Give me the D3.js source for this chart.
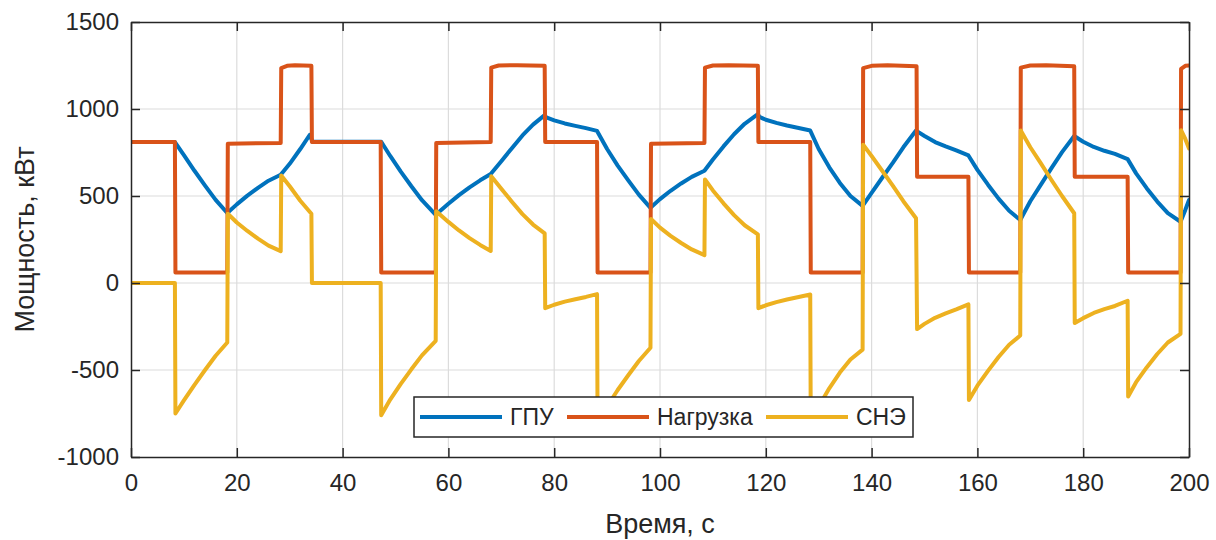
<!DOCTYPE html>
<html>
<head>
<meta charset="utf-8">
<script src="https://cdn.jsdelivr.net/npm/d3@7"></script>
<style>
  html, body { margin: 0; padding: 0; background: #fff; }
  svg { display: block; }
</style>
</head>
<body>
<svg id="chart" width="1216" height="540"></svg>
<script>
// ---------- data (time in s, power in kW) ----------
const xTicks = [0, 20, 40, 60, 80, 100, 120, 140, 160, 180, 200];
const yTicks = [-1000, -500, 0, 500, 1000, 1500];
const seriesNames = ["ГПУ", "Нагрузка", "СНЭ"];
const xLabel = "Время, с";
const yLabel = "Мощность, кВт";

const gpu = [
  [0,810],[8.3,810],
  [10,735],[12,645],[14,560],[16,478],[18.2,402],
  [20,452],[22,502],[24,547],[26,588],[28.3,622],
  [30,685],[32,770],[33.8,852],
  [34.3,812],[47.3,812],
  [49,730],[51,640],[53,556],[55,476],[57.6,392],
  [60,455],[62,505],[64,550],[66,590],[68.0,626],
  [70,700],[72,775],[74,848],[76,910],[78.2,965],
  [78.5,952],[80,935],[82,917],[84,903],[86,890],[88.1,874],
  [90,770],[92,675],[94,590],[96,508],[98.2,432],
  [100,482],[102,530],[104,572],[106,610],[108.4,645],
  [110,710],[112,785],[114,855],[116,915],[118.5,970],
  [118.8,955],[120,938],[122,920],[124,905],[126,892],[128.4,876],
  [130,770],[132,665],[134,575],[136,500],[138.3,443],
  [140,518],[142,605],[144,690],[146,780],[148.4,876],
  [150,845],[152,810],[154,785],[156,762],[158.3,733],
  [160,650],[162,565],[164,485],[166,415],[168.1,362],
  [170,470],[172,565],[174,660],[176,752],[178.3,845],
  [180,812],[182,782],[184,760],[186,742],[188.4,712],
  [190,630],[192,545],[194,468],[196,402],[198.4,352],
  [199.3,420],[200,477]
];

const load = [
  [0,810],[8.3,810],[8.4,60],[18.2,60],[18.3,800],[28.3,805],
  [28.4,1235],[29.5,1248],[31,1252],[34.1,1248],[34.2,810],[47.2,810],
  [47.3,60],[57.6,60],[57.7,805],[68.0,810],
  [68.1,1238],[69.5,1250],[73,1252],[78.2,1248],[78.3,810],[88.1,810],
  [88.2,60],[98.2,60],[98.3,800],[108.4,805],
  [108.5,1238],[110,1250],[113,1252],[118.5,1248],[118.6,810],[128.4,810],
  [128.5,60],[138.3,60],[138.4,1235],[140,1248],[143,1252],[148.5,1246],
  [148.6,610],[158.3,610],[158.4,60],[168.1,60],
  [168.2,1238],[170,1250],[173,1252],[178.3,1246],[178.4,610],[188.4,610],
  [188.5,60],[198.4,60],[198.5,1230],[199.3,1248],[200,1250]
];

const sne = [
  [0,0],[8.3,0],[8.4,-750],
  [10,-675],[12,-585],[14,-500],[16,-418],[18.2,-342],
  [18.3,398],[20,348],[22,299],[24,255],[26,215],[28.3,183],
  [28.4,618],[30,556],[32,473],[34.1,398],
  [34.2,0],[47.2,0],[47.3,-760],
  [49,-670],[51,-580],[53,-496],[55,-416],[57.6,-332],
  [57.7,413],[60,351],[62,302],[64,258],[66,219],[68.0,184],
  [68.1,614],[70,541],[72,467],[74,396],[76,336],[78.2,285],
  [78.3,-145],[80,-125],[82,-107],[84,-93],[86,-80],[88.1,-64],
  [88.2,-814],[90,-710],[92,-615],[94,-530],[96,-448],[98.2,-372],
  [98.3,368],[100,318],[102,271],[104,230],[106,193],[108.4,160],
  [108.5,595],[110,532],[112,458],[114,390],[116,332],[118.5,280],
  [118.6,-145],[120,-128],[122,-110],[124,-95],[126,-82],[128.4,-66],
  [128.5,-816],[130,-710],[132,-605],[134,-515],[136,-440],[138.3,-383],
  [138.4,795],[140,730],[142,645],[144,560],[146,470],[148.4,372],
  [148.6,-265],[150,-235],[152,-200],[154,-175],[156,-152],[158.3,-123],
  [158.4,-673],[160,-590],[162,-505],[164,-425],[166,-355],[168.1,-302],
  [168.2,876],[170,780],[172,687],[174,592],[176,500],[178.3,401],
  [178.4,-230],[180,-202],[182,-172],[184,-150],[186,-132],[188.4,-102],
  [188.5,-652],[190,-570],[192,-485],[194,-408],[196,-342],[198.4,-292],
  [198.5,878],[199.3,828],[200,773]
];

const colors = ["#0072BD", "#D95319", "#EDB120"];

// ---------- layout ----------
const L = 131, R = 1189, T = 22, B = 457;
const svg = d3.select("#chart");
const x = d3.scaleLinear().domain([0, 200]).range([L, R]);
const y = d3.scaleLinear().domain([-1000, 1500]).range([B, T]);
const axisColor = "#262626";
const font = "'Liberation Sans', Arial, Helvetica, sans-serif";
const fmt = d => String(d);

// grid
const grid = svg.append("g");
grid.selectAll("line.gx").data(xTicks.slice(1, -1)).enter().append("line")
  .attr("x1", d => x(d)).attr("x2", d => x(d)).attr("y1", T).attr("y2", B)
  .attr("stroke", "#dcdcdc").attr("stroke-width", 1.2);
grid.selectAll("line.gy").data(yTicks.slice(1, -1)).enter().append("line")
  .attr("y1", d => y(d)).attr("y2", d => y(d)).attr("x1", L).attr("x2", R)
  .attr("stroke", "#dcdcdc").attr("stroke-width", 1.2);

// lines
svg.append("clipPath").attr("id", "clip").append("rect")
  .attr("x", L).attr("y", T).attr("width", R - L).attr("height", B - T);
const line = d3.line().x(d => x(d[0])).y(d => y(d[1]));
const plot = svg.append("g").attr("clip-path", "url(#clip)");
[gpu, load, sne].forEach((s, i) => {
  plot.append("path").datum(s).attr("d", line)
    .attr("fill", "none").attr("stroke", colors[i]).attr("stroke-width", 4)
    .attr("stroke-linejoin", "round").attr("stroke-linecap", "round");
});

// axes (ticks inside, box)
function styleAxis(g) {
  g.selectAll("path.domain").attr("stroke", axisColor).attr("stroke-width", 1.5);
  g.selectAll(".tick line").attr("stroke", axisColor).attr("stroke-width", 1.5);
  g.selectAll("text").attr("fill", axisColor).style("font-family", font).style("font-size", "24px");
}
svg.append("g").attr("transform", `translate(0,${B})`)
  .call(d3.axisBottom(x).tickValues(xTicks).tickSizeInner(-9).tickSizeOuter(0).tickPadding(17).tickFormat(fmt))
  .call(styleAxis);
svg.append("g").attr("transform", `translate(0,${T})`)
  .call(d3.axisTop(x).tickValues(xTicks).tickSizeInner(-9).tickSizeOuter(0).tickFormat(""))
  .call(styleAxis);
svg.append("g").attr("transform", `translate(${L},0)`)
  .call(d3.axisLeft(y).tickValues(yTicks).tickSizeInner(-9).tickSizeOuter(0).tickPadding(12).tickFormat(fmt))
  .call(styleAxis);
svg.append("g").attr("transform", `translate(${R},0)`)
  .call(d3.axisRight(y).tickValues(yTicks).tickSizeInner(-9).tickSizeOuter(0).tickFormat(""))
  .call(styleAxis);

// axis labels
svg.append("text").attr("x", (L + R) / 2).attr("y", 533)
  .attr("text-anchor", "middle").attr("fill", axisColor)
  .style("font-family", font).style("font-size", "27px").text(xLabel);
svg.append("text").attr("transform", `translate(34,${(T + B) / 2}) rotate(-90)`)
  .attr("text-anchor", "middle").attr("fill", axisColor)
  .style("font-family", font).style("font-size", "27px").text(yLabel);

// legend
const lg = svg.append("g");
const lgX = 414, lgY = 397, lgW = 499, lgH = 40;
lg.append("rect").attr("x", lgX).attr("y", lgY).attr("width", lgW).attr("height", lgH)
  .attr("fill", "#fff").attr("stroke", axisColor).attr("stroke-width", 1.5);
const itemX = [420, 567, 766];
seriesNames.forEach((name, i) => {
  const cy = lgY + lgH / 2;
  lg.append("line").attr("x1", itemX[i]).attr("x2", itemX[i] + 82)
    .attr("y1", cy).attr("y2", cy).attr("stroke", colors[i]).attr("stroke-width", 4);
  lg.append("text").attr("x", itemX[i] + 90).attr("y", cy).attr("dy", "0.35em")
    .attr("fill", axisColor).style("font-family", font).style("font-size", "23px").text(name);
});
</script>
</body>
</html>
